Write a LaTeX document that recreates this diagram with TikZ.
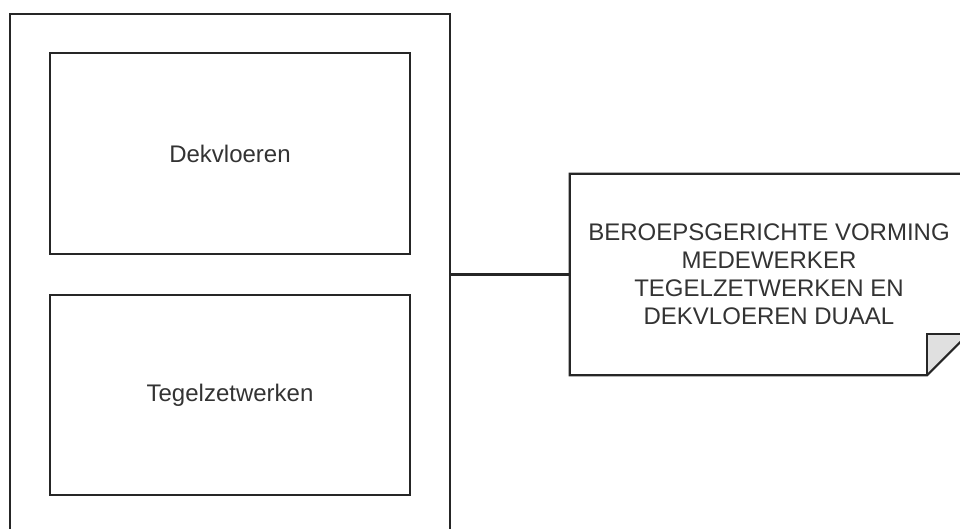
\documentclass[tikz,border=0pt]{standalone}
\usepackage{fontspec}
\setmainfont{Liberation Sans}
\begin{document}
\begin{tikzpicture}[x=1pt,y=-1pt,
  boxline/.style={draw=black!85, line width=2.2pt},
  lbl/.style={text=black!80, font=\fontsize{24}{28}\selectfont, align=center, inner sep=0pt}]
\useasboundingbox (0,0) rectangle (960,529);
\clip (0,0) rectangle (960,529);
\node[boxline, minimum width=440pt, minimum height=526pt, inner sep=0pt] (outer) at (230,277) {};
\node[boxline, minimum width=360pt, minimum height=201pt, inner sep=0pt] (dek) at (230,153.5) {};
\node[lbl] (dektxt) at (dek.center) {Dekvloeren};
\node[boxline, minimum width=360pt, minimum height=200pt, inner sep=0pt] (tegel) at (230,395) {};
\node[lbl] (tegeltxt) at (tegel.center) {Tegelzetwerken};
\node[minimum width=398pt, minimum height=201pt, inner sep=0pt] (note) at (769,274.5) {};
\node[lbl] (notetxt) at (note.center) {BEROEPSGERICHTE VORMING\\MEDEWERKER\\TEGELZETWERKEN EN\\DEKVLOEREN DUAAL};
\coordinate (fa) at ([xshift=-41pt]note.south east);
\coordinate (fb) at ([yshift=41pt]note.south east);
\coordinate (fc) at ([xshift=-41pt,yshift=41pt]note.south east);
\fill[black!12] (fc) -- (fb) -- (fa) -- cycle;
\draw[boxline, line join=miter] (fb) -- (note.north east) -- (note.north west) -- (note.south west) -- (fa) -- cycle;
\draw[boxline] (fa) -- (fc) -- (fb);
\draw[boxline] (outer.east |- note.west) -- (note.west);
\end{tikzpicture}
\end{document}
